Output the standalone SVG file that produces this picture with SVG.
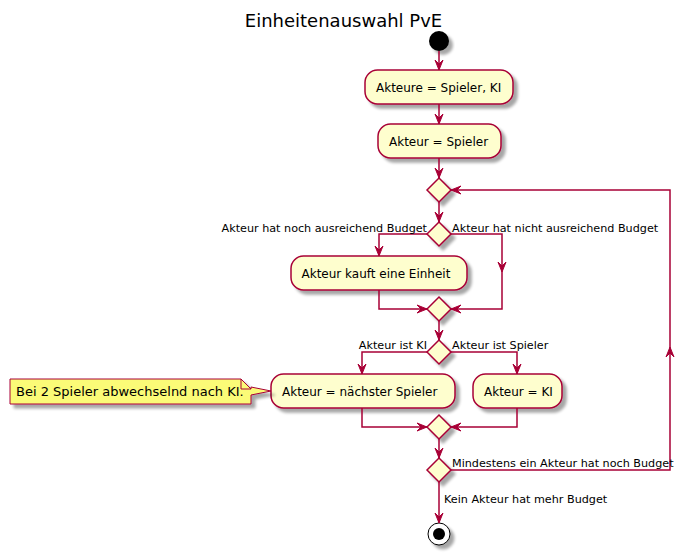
<svg xmlns="http://www.w3.org/2000/svg" width="685" height="555" viewBox="0 0 685 555">
<defs>
<filter id="sh" x="-20%" y="-20%" width="150%" height="160%">
<feGaussianBlur in="SourceAlpha" stdDeviation="1.8" result="b"/>
<feOffset in="b" dx="4" dy="4" result="o"/>
<feComponentTransfer in="o" result="s"><feFuncA type="linear" slope="0.35"/></feComponentTransfer>
<feMerge><feMergeNode in="s"/><feMergeNode in="SourceGraphic"/></feMerge>
</filter>
</defs>
<style>
.box{fill:#FEFECE;stroke:#A80036;stroke-width:1.5;filter:url(#sh)}
.dia{fill:#FEFECE;stroke:#A80036;stroke-width:1.5;filter:url(#sh)}
.note{fill:#FBFB77;stroke:#A80036;stroke-width:1;filter:url(#sh)}
.ln{fill:none;stroke:#A80036;stroke-width:1.5}
.ah{fill:#A80036;stroke:#A80036;stroke-width:1}
.t{font-family:"DejaVu Sans",sans-serif;font-size:12px;fill:#000}
.lb{font-family:"DejaVu Sans",sans-serif;font-size:11.2px;fill:#000}
.nt{font-family:"DejaVu Sans",sans-serif;font-size:13px;fill:#000}
.title{font-family:"DejaVu Sans",sans-serif;font-size:18px;fill:#000}
</style>
<rect width="685" height="555" fill="#FFFFFF"/>
<text class="title" x="343.5" y="26.5" text-anchor="middle">Einheitenauswahl PvE</text>

<g id="start"><circle cx="439" cy="41" r="10" fill="#000" filter="url(#sh)"/></g>

<g id="n1"><rect class="box" x="365" y="70" width="148" height="34" rx="12.5"/><text class="t" x="376" y="91.5">Akteure = Spieler, KI</text></g>
<g id="n2"><rect class="box" x="378" y="124" width="123" height="34" rx="12.5"/><text class="t" x="389" y="145.5">Akteur = Spieler</text></g>
<g id="d1"><polygon class="dia" points="427,190 439,178 451,190 439,202"/></g>
<g id="d2"><polygon class="dia" points="427,234 439,222 451,234 439,246"/></g>
<g id="n3"><rect class="box" x="291" y="256" width="176" height="34" rx="12.5"/><text class="t" x="301.5" y="277.5">Akteur kauft eine Einheit</text></g>
<g id="d3"><polygon class="dia" points="427,309 439,297 451,309 439,321"/></g>
<g id="d4"><polygon class="dia" points="427,352 439,340 451,352 439,364"/></g>
<g id="n4"><rect class="box" x="271" y="374" width="184" height="34" rx="12.5"/><text class="t" x="282" y="395.5">Akteur = nächster Spieler</text></g>
<g id="n5"><rect class="box" x="473" y="374" width="89" height="34" rx="12.5"/><text class="t" x="484" y="395.5">Akteur = KI</text></g>
<g id="note"><path class="note" d="M10,379 L10,404 L251,404 L251,395 L271,391 L251,387 L251,389 L241,379 Z"/><path d="M241,379 L241,389 L251,389" fill="none" stroke="#A80036" stroke-width="1"/><text class="nt" x="16" y="396">Bei 2 Spieler abwechselnd nach KI.</text></g>
<g id="d5"><polygon class="dia" points="427,427 439,415 451,427 439,439"/></g>
<g id="d6"><polygon class="dia" points="427,470 439,458 451,470 439,482"/></g>
<g id="end"><circle cx="439" cy="534" r="11" fill="#FFFFFF" stroke="#000" stroke-width="1" filter="url(#sh)"/><circle cx="439" cy="534" r="6" fill="#000"/></g>

<g id="connectors">
<path class="ln" d="M439,51 L439,70"/><polygon class="ah" points="435,60 439,70 443,60 439,64"/>
<path class="ln" d="M439,104 L439,124"/><polygon class="ah" points="435,114 439,124 443,114 439,118"/>
<path class="ln" d="M439,158 L439,178"/><polygon class="ah" points="435,168 439,178 443,168 439,172"/>
<path class="ln" d="M439,202 L439,222"/><polygon class="ah" points="435,212 439,222 443,212 439,216"/>
<path class="ln" d="M427,234 L379,234 L379,256"/><polygon class="ah" points="375,246 379,256 383,246 379,250"/>
<path class="ln" d="M451,234 L502,234 L502,309 L451,309"/><polygon class="ah" points="498,262 502,272 506,262 502,266"/><polygon class="ah" points="461,305 451,309 461,313 457,309"/>
<path class="ln" d="M379,290 L379,309 L427,309"/><polygon class="ah" points="417,305 427,309 417,313 421,309"/>
<path class="ln" d="M439,321 L439,340"/><polygon class="ah" points="435,330 439,340 443,330 439,334"/>
<path class="ln" d="M427,352 L362,352 L362,374"/><polygon class="ah" points="358,364 362,374 366,364 362,368"/>
<path class="ln" d="M451,352 L517,352 L517,374"/><polygon class="ah" points="513,364 517,374 521,364 517,368"/>
<path class="ln" d="M362,408 L362,427 L427,427"/><polygon class="ah" points="417,423 427,427 417,431 421,427"/>
<path class="ln" d="M517,408 L517,427 L451,427"/><polygon class="ah" points="461,423 451,427 461,431 457,427"/>
<path class="ln" d="M439,439 L439,458"/><polygon class="ah" points="435,448 439,458 443,448 439,452"/>
<path class="ln" d="M451,470 L670,470 L670,190 L451,190"/><polygon class="ah" points="666,357 670,347 674,357 670,353"/><polygon class="ah" points="461,186 451,190 461,194 457,190"/>
<path class="ln" d="M439,482 L439,523"/><polygon class="ah" points="435,513 439,523 443,513 439,517"/>
<text class="lb" x="427" y="231.5" text-anchor="end">Akteur hat noch ausreichend Budget</text>
<text class="lb" x="452" y="231.5">Akteur hat nicht ausreichend Budget</text>
<text class="lb" x="427" y="349" text-anchor="end">Akteur ist KI</text>
<text class="lb" x="452" y="349">Akteur ist Spieler</text>
<text class="lb" x="452" y="467">Mindestens ein Akteur hat noch Budget</text>
<text class="lb" x="444" y="503">Kein Akteur hat mehr Budget</text>
</g>
</svg>
